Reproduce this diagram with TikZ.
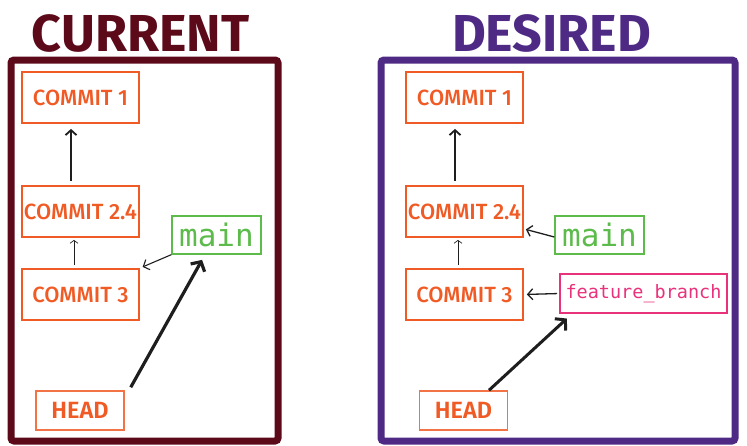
\documentclass[tikz,border=0pt]{standalone}
\usepackage{fontspec}
\setmainfont{Fira Sans}
\setmonofont{DejaVu Sans Mono}
\newfontfamily\medfont{Fira Sans}[UprightFont=* Medium, BoldFont=* SemiBold]
\usetikzlibrary{arrows.meta}
\definecolor{cmaroon}{HTML}{5C0A1A}
\definecolor{cpurple}{HTML}{4E2A84}
\definecolor{corange}{HTML}{F05A24}
\definecolor{cgreen}{HTML}{5DBB4C}
\definecolor{cpink}{HTML}{E8327C}
\definecolor{cink}{HTML}{1E1E1E}
\tikzset{
  commitbox/.style={draw=corange, line width=1.8pt, text=corange, minimum width=117pt, minimum height=51pt, inner sep=0pt, font=\medfont\fontsize{22}{22}\selectfont},
  headbox/.style={draw=corange!85, line width=1.5pt, text=corange, minimum width=88pt, minimum height=39pt, inner sep=0pt, font=\medfont\bfseries\fontsize{23.5}{23.5}\selectfont},
  mainbox/.style={draw=cgreen, line width=1.3pt, text=cgreen, minimum width=89pt, minimum height=38pt, inner sep=0pt, font=\ttfamily\fontsize{31}{31}\selectfont},
  featbox/.style={draw=cpink, line width=1.6pt, text=cpink, minimum width=167pt, minimum height=39pt, inner sep=0pt, font=\ttfamily\fontsize{18.5}{18.5}\selectfont},
  titletext/.style={anchor=base, inner sep=0pt, font=\bfseries\fontsize{52}{52}\selectfont},
  frame/.style={line width=7pt, rounded corners=3pt},
  arr/.style={draw=cink, -{Straight Barb[length=5pt,width=11pt]}},
}
\begin{document}
\begin{tikzpicture}[x=1pt,y=-1pt]
\useasboundingbox (0,0) rectangle (747,445);
% titles and frames
\node[titletext, text=cmaroon] (tcur) at (140.5,51) {CURRENT};
\node[titletext, text=cpurple] (tdes) at (551.5,51) {DESIRED};
\draw[frame, draw=cmaroon] (11,60) rectangle (278,441);
\draw[frame, draw=cpurple] (381,60) rectangle (735,441);
% left
\node[commitbox] (c1) at (80.5,97.5) {COMMIT 1};
\node[commitbox] (c24) at (80.5,211.5) {COMMIT 2.4};
\node[commitbox] (c3) at (80.5,294.5) {COMMIT 3};
\node[mainbox] (main) at (216.5,235) {main};
\node[headbox] (head) at (80,410.5) {HEAD};
\draw[arr, line width=1.8pt, shorten <=4pt, shorten >=5pt] ([xshift=-9.5pt]c24.north) -- ([xshift=-9.5pt]c1.south);
\draw[arr, line width=0.7pt, -{Straight Barb[length=3pt,width=8pt]}, shorten <=3pt, shorten >=2pt] ([xshift=-6.5pt]c3.north) -- ([xshift=-6.5pt]c24.south);
\draw[arr, line width=1.1pt, shorten >=3pt] (main.south west) -- (c3.north east);
\draw[arr, line width=3.2pt, -{Straight Barb[length=7pt,width=16pt]}, shorten >=6pt] ([shift={(6pt,3pt)}]head.north east) -- ([xshift=-11.5pt]main.south);
% right
\node[commitbox] (d1) at (464.5,97.5) {COMMIT 1};
\node[commitbox] (d24) at (464.5,211.5) {COMMIT 2.4};
\node[commitbox] (d3) at (464.5,294.5) {COMMIT 3};
\node[mainbox] (dmain) at (599.5,235) {main};
\node[featbox] (feat) at (643.5,293.5) {feature\_branch};
\node[headbox] (dhead) at (463.5,410.5) {HEAD};
\draw[arr, line width=1.8pt, shorten <=4pt, shorten >=5pt] ([xshift=-9.5pt]d24.north) -- ([xshift=-9.5pt]d1.south);
\draw[arr, line width=0.7pt, -{Straight Barb[length=3pt,width=8pt]}, shorten <=3pt, shorten >=2pt] ([xshift=-6.5pt]d3.north) -- ([xshift=-6.5pt]d24.south);
\draw[arr, line width=1.3pt, shorten >=2pt] ([yshift=-2pt]dmain.west) -- ([yshift=9pt]d24.south east);
\draw[arr, line width=1.3pt, shorten <=2pt, shorten >=3pt] (feat.west) -- (d3.east);
\draw[arr, line width=3pt, -{Straight Barb[length=7pt,width=16pt]}, shorten >=7pt] ([xshift=25.5pt]dhead.north) -- ([xshift=-71.5pt]feat.south);
\end{tikzpicture}
\end{document}
